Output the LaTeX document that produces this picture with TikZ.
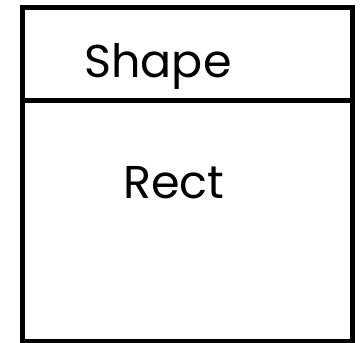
\documentclass[tikz,border=0pt]{standalone}
\usepackage{fontspec}
\setmainfont{Poppins}
\usetikzlibrary{positioning}
\tikzset{
  classbox/.style={draw=black,line width=5pt,outer sep=0pt,inner sep=0pt,minimum width=330pt,anchor=north west},
  classtext/.style={anchor=base,inner sep=0pt,font=\fontsize{46}{50}\selectfont},
}

\begin{document}
\begin{tikzpicture}[x=1pt,y=-1pt]
    \useasboundingbox (0,0) rectangle (362,343);

    \node[classbox,minimum height=93pt] (head) at (22,7.5) {};
    \node[classbox,minimum height=240.5pt] (body) at (head.south west) {};

    \node[classtext] (name) at (158,77) {Shape};
    \node[classtext] (attr) at (174,198) {Rect};
  \end{tikzpicture}
\end{document}
